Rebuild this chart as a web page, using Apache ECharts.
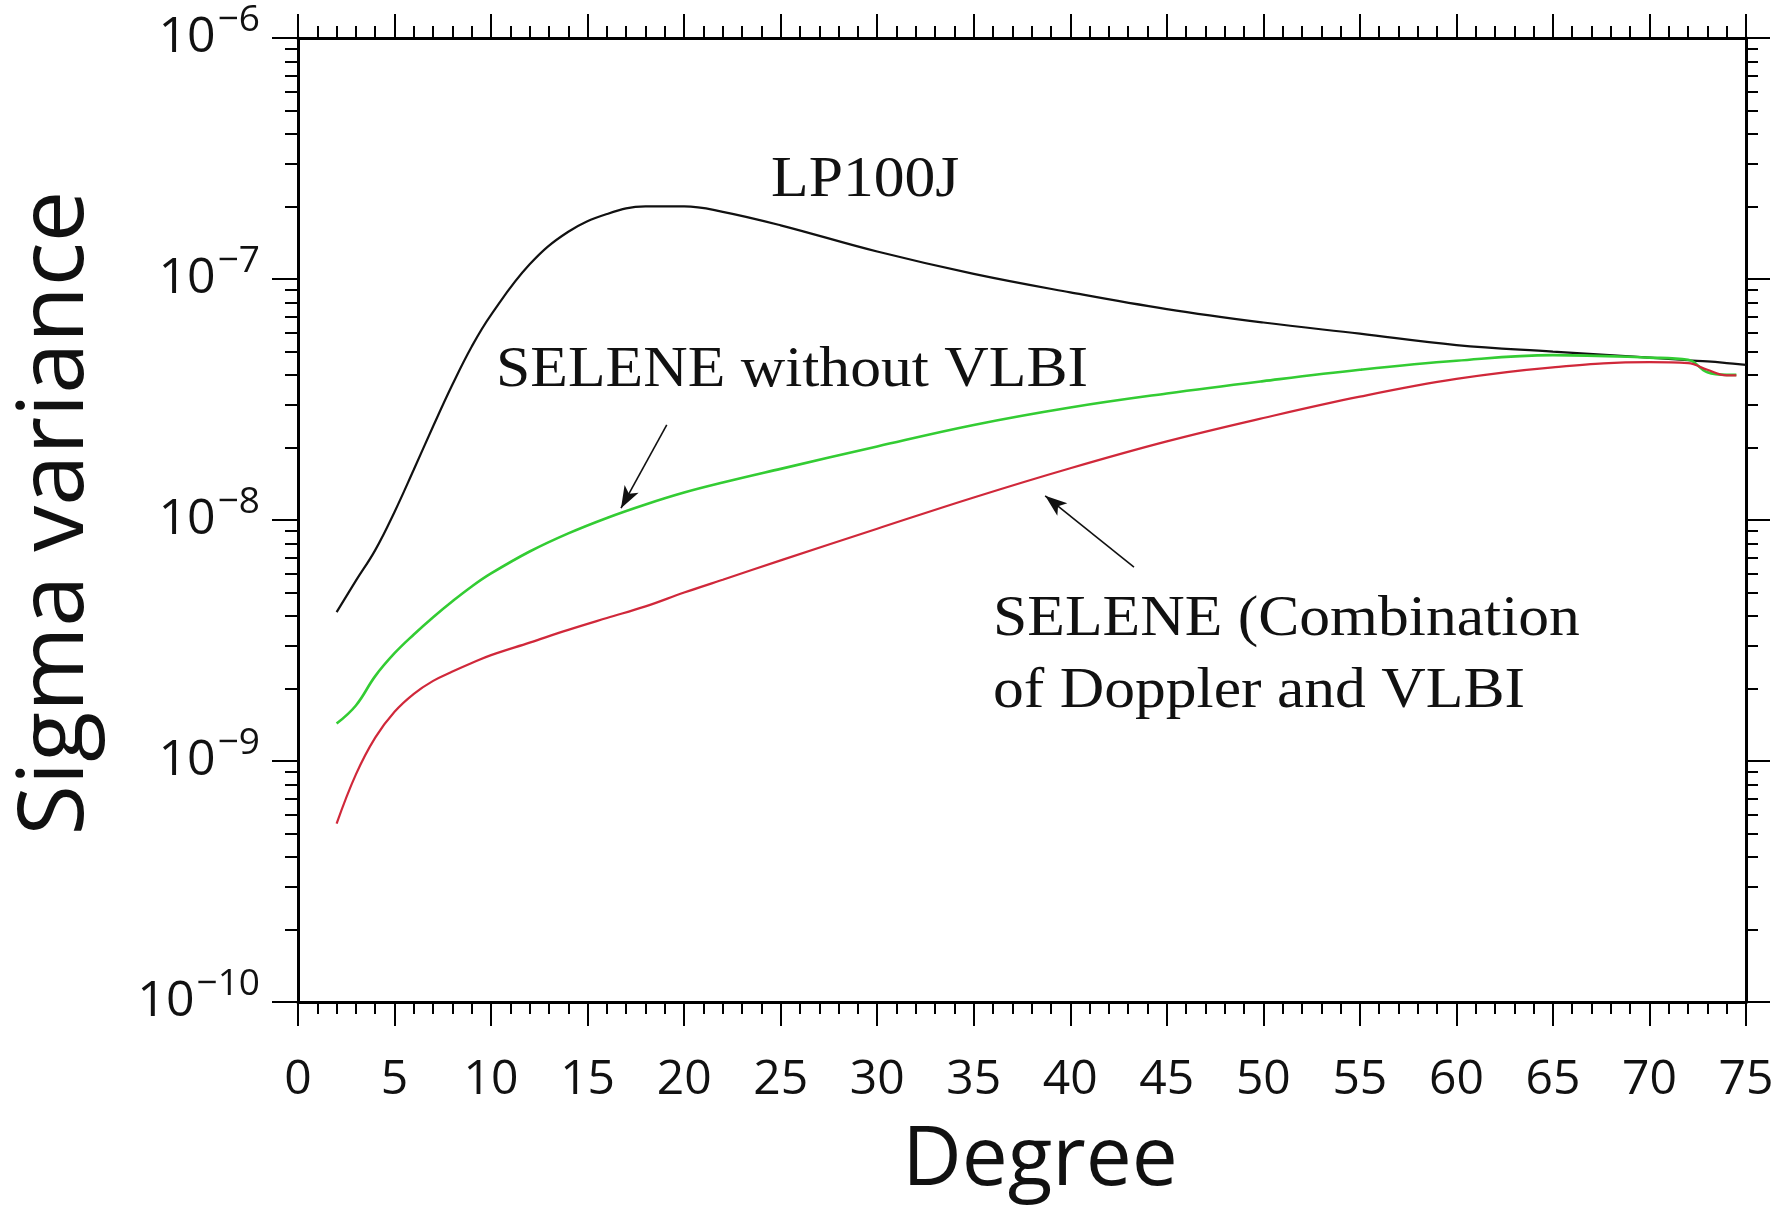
<!DOCTYPE html>
<html>
<head>
<meta charset="utf-8">
<title>Sigma variance</title>
<script src="https://cdn.jsdelivr.net/npm/echarts@6/dist/echarts.min.js"></script>
<style>
  html, body { margin: 0; padding: 0; background: #fff; }
  #chart { width: 1778px; height: 1215px; }
</style>
</head>
<body>
<div id="chart"></div>
<script>
// degrees
const degLP = [2, 3, 4, 5, 6, 7, 8, 9, 10, 12, 14, 16, 18, 20, 22, 25, 30, 35, 40, 45, 50, 55, 60, 65, 70, 72, 73, 74, 75]
const degSelene = [2, 3, 4, 5, 6, 7, 8, 9, 10, 12, 14, 16, 18, 20, 22, 25, 30, 35, 40, 45, 50, 55, 60, 65, 70, 72, 73, 74, 74.5]

const lp100j = [4.15e-9, 5.6e-9, 7.5e-9, 1.08e-8, 1.62e-8, 2.45e-8, 3.65e-8, 5.25e-8, 7.1e-8, 1.15e-7, 1.57e-7, 1.86e-7, 2.0e-7, 2.0e-7, 1.9e-7, 1.67e-7, 1.3e-7, 1.05e-7, 8.8e-8, 7.5e-8, 6.6e-8, 5.93e-8, 5.32e-8, 5.0e-8, 4.72e-8, 4.6e-8, 4.55e-8, 4.48e-8, 4.4e-8]
const withoutVlbi = [1.43e-9, 1.7e-9, 2.25e-9, 2.8e-9, 3.35e-9, 3.95e-9, 4.6e-9, 5.3e-9, 6.0e-9, 7.4e-9, 8.8e-9, 1.02e-8, 1.16e-8, 1.3e-8, 1.43e-8, 1.63e-8, 2.02e-8, 2.48e-8, 2.93e-8, 3.35e-8, 3.77e-8, 4.2e-8, 4.58e-8, 4.83e-8, 4.72e-8, 4.62e-8, 4.1e-8, 4.0e-8, 4.0e-8]
const combination = [5.5e-10, 8.8e-10, 1.25e-9, 1.6e-9, 1.9e-9, 2.15e-9, 2.35e-9, 2.55e-9, 2.75e-9, 3.1e-9, 3.5e-9, 3.92e-9, 4.38e-9, 5.0e-9, 5.65e-9, 6.8e-9, 9.2e-9, 1.24e-8, 1.64e-8, 2.12e-8, 2.65e-8, 3.25e-8, 3.85e-8, 4.3e-8, 4.52e-8, 4.48e-8, 4.2e-8, 3.98e-8, 3.98e-8]

// arrows: [from, to] in degree / variance
const arrowWithout = [[19.1, 2.48e-8], [16.73, 1.12e-8]]
const arrowCombination = [[43.3, 6.38e-9], [38.7, 1.26e-8]]

// minor ticks of the log axis: 2..9 in each decade
const minorY = []
for (let e = -10; e < -6; e++) {
  for (let m = 2; m <= 9; m++) minorY.push(Number((m * Math.pow(10, e)).toPrecision(3)))
}

const sans = '"Open Sans", "Noto Sans", sans-serif'
const serif = '"Liberation Serif", "DejaVu Serif", serif'

const myChart = echarts.init(document.getElementById('chart'))

const xBase = {
  type: 'value',
  min: 0,
  max: 75,
  interval: 5,
  splitLine: { show: false },
  axisLine: { show: true, lineStyle: { color: '#000', width: 3 } },
  axisTick: { show: true, length: 24, lineStyle: { color: '#000', width: 2 } },
  minorTick: { show: true, splitNumber: 5, length: 12, lineStyle: { color: '#000', width: 2 } },
  minorSplitLine: { show: false }
}

const yBase = {
  type: 'log',
  logBase: 10,
  min: 1e-10,
  max: 1e-6,
  splitLine: { show: false },
  axisLabel: { show: false },
  axisLine: { show: false }
}

const option = {
  backgroundColor: '#fff',
  animation: false,
  grid: { left: 298, top: 38, width: 1448, height: 964 },
  xAxis: [
    Object.assign({}, xBase, {
      position: 'bottom',
      axisLabel: {
        show: true, margin: 54, fontSize: 48, color: '#111', fontFamily: sans,
        hideOverlap: false
      }
    }),
    Object.assign({}, xBase, { position: 'top', axisLabel: { show: false } })
  ],
  yAxis: [
    Object.assign({}, yBase, {
      position: 'left',
      axisLine: { show: true, lineStyle: { color: '#000', width: 3 } },
      axisTick: { show: true, length: 26, lineStyle: { color: '#000', width: 2 } },
      axisLabel: {
        show: true,
        margin: 38,
        formatter: function (value) {
          const e = Math.round(Math.log10(value))
          return '{b|10}{s|−' + Math.abs(e) + '}'
        },
        rich: {
          b: { fontSize: 50, fontFamily: sans, color: '#111' },
          s: { fontSize: 37, fontFamily: sans, color: '#111', padding: [0, 0, 36, 2] }
        }
      }
    }),
    Object.assign({}, yBase, {
      position: 'left',
      axisTick: { show: true, length: 13, customValues: minorY, lineStyle: { color: '#000', width: 2 } }
    }),
    Object.assign({}, yBase, {
      position: 'right',
      axisLine: { show: true, lineStyle: { color: '#000', width: 3 } },
      axisTick: { show: true, length: 24, lineStyle: { color: '#000', width: 2 } }
    }),
    Object.assign({}, yBase, {
      position: 'right',
      axisTick: { show: true, length: 12, customValues: minorY, lineStyle: { color: '#000', width: 2 } }
    })
  ],
  graphic: [
    { type: 'text', x: 57, y: 513, rotation: Math.PI / 2,
      style: { text: 'Sigma variance', font: '92px ' + sans, fill: '#111', align: 'center', verticalAlign: 'middle' } },
    { type: 'text', x: 1040, y: 1162,
      style: { text: 'Degree', font: '82px ' + sans, fill: '#111', align: 'center', verticalAlign: 'middle' } },
    { type: 'text', x: 771, y: 181, scaleX: 1.1,
      style: { text: 'LP100J', font: '56px ' + serif, fill: '#111', verticalAlign: 'middle' } },
    { type: 'text', x: 496, y: 371, scaleX: 1.1,
      style: { text: 'SELENE without VLBI', font: '56px ' + serif, fill: '#111', verticalAlign: 'middle' } },
    { type: 'text', x: 993, y: 620, scaleX: 1.1,
      style: { text: 'SELENE (Combination', font: '56px ' + serif, fill: '#111', verticalAlign: 'middle' } },
    { type: 'text', x: 993, y: 692, scaleX: 1.1,
      style: { text: 'of Doppler and VLBI', font: '56px ' + serif, fill: '#111', verticalAlign: 'middle' } }
  ],
  series: [
    {
      name: 'LP100J',
      type: 'line',
      smooth: 0.4,
      showSymbol: false,
      lineStyle: { color: '#111', width: 2.2 },
      data: degLP.map((d, i) => [d, lp100j[i]])
    },
    {
      name: 'SELENE without VLBI',
      type: 'line',
      smooth: 0.4,
      showSymbol: false,
      lineStyle: { color: '#33cc33', width: 2.6 },
      data: degSelene.map((d, i) => [d, withoutVlbi[i]]),
      markLine: {
        silent: true,
        symbol: ['none', 'arrow'],
        symbolSize: [12, 22],
        label: { show: false },
        lineStyle: { color: '#111', width: 1.6, type: 'solid' },
        data: [[{ coord: arrowWithout[0] }, { coord: arrowWithout[1] }]]
      }
    },
    {
      name: 'SELENE (Combination of Doppler and VLBI)',
      type: 'line',
      smooth: 0.4,
      showSymbol: false,
      lineStyle: { color: '#d0283a', width: 2.2 },
      data: degSelene.map((d, i) => [d, combination[i]]),
      markLine: {
        silent: true,
        symbol: ['none', 'arrow'],
        symbolSize: [12, 22],
        label: { show: false },
        lineStyle: { color: '#111', width: 1.6, type: 'solid' },
        data: [[{ coord: arrowCombination[0] }, { coord: arrowCombination[1] }]]
      }
    }
  ]
}

myChart.setOption(option)
</script>
</body>
</html>
